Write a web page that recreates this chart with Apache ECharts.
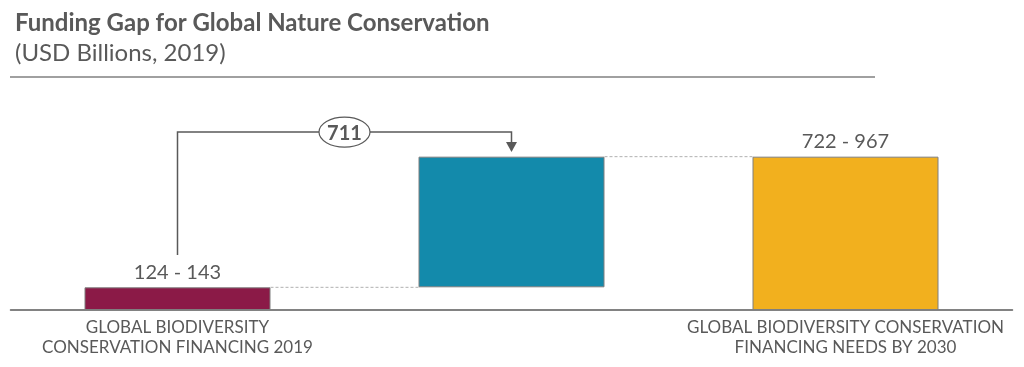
<!DOCTYPE html>
<html><head><meta charset="utf-8">
<script src="https://cdn.jsdelivr.net/npm/echarts@6/dist/echarts.min.js"></script>
<style>html,body{margin:0;padding:0;background:#fff}#c{width:1024px;height:367px}</style>
</head><body><div id="c"></div>
<script>
const categories = ['GLOBAL BIODIVERSITY\nCONSERVATION FINANCING 2019', '', 'GLOBAL BIODIVERSITY CONSERVATION\nFINANCING NEEDS BY 2030'];
const lowValues = [124, null, 722];
const highValues = [143, null, 967];
const gapLabel = 711;
// bracket: start value above bar 1, top value of the bracket, arrow tip value above bar 2
const bracketValues = [347, 1122, 997];

const barColors = ['#8B1A47', '#138AAB', '#F2B01E'];
const textColor = '#595959';
const barWidth = 186;

const baseData = [0, highValues[0], 0];
const sizeData = [highValues[0], highValues[2] - highValues[0], highValues[2]];

const chart = echarts.init(document.getElementById('c'));
chart.setOption({
  animation: false,
  title: [{
    text: 'Funding Gap for Global Nature Conservation',
    left: 10, top: 6,
    textStyle: {fontFamily: 'Lato', fontWeight: 'bold', fontSize: 24, color: textColor}
  }, {
    text: '(USD Billions, 2019)',
    left: 10, top: 36,
    textStyle: {fontFamily: 'Lato', fontWeight: 'normal', fontSize: 24, color: textColor}
  }],
  graphic: [{
    type: 'line', shape: {x1: 10, y1: 77, x2: 875, y2: 77},
    style: {stroke: '#808080', lineWidth: 1.5}
  }],
  grid: {left: 10.5, right: 11.5, top: 88, bottom: 57},
  xAxis: {
    type: 'category', data: categories,
    axisLine: {lineStyle: {color: '#595959', width: 1.5}},
    axisTick: {show: false},
    axisLabel: {fontFamily: 'Lato', fontSize: 17, color: textColor, lineHeight: 20, margin: 8, interval: 0}
  },
  yAxis: {type: 'value', min: 0, max: 1400, show: false, splitLine: {show: false}},
  series: [{
    type: 'bar', stack: 's', data: baseData, barWidth: barWidth,
    itemStyle: {color: 'transparent'}, silent: true
  }, {
    type: 'bar', stack: 's', barWidth: barWidth,
    data: sizeData.map((v, i) => ({
      value: v,
      itemStyle: {color: barColors[i], borderColor: '#7f7f7f', borderWidth: 1},
      label: {show: lowValues[i] != null}
    })),
    label: {
      position: 'top', distance: 5, fontFamily: 'Lato', fontSize: 20, color: textColor,
      formatter: p => lowValues[p.dataIndex] + ' - ' + highValues[p.dataIndex]
    }
  }, {
    type: 'custom', silent: true, z: 1,
    data: [[0, highValues[0], 1], [1, highValues[2], 2]],
    renderItem: (params, api) => {
      const a = api.coord([api.value(0), api.value(1)]);
      const b = api.coord([api.value(2), api.value(1)]);
      return {type: 'line', shape: {x1: a[0] + barWidth / 2, y1: a[1], x2: b[0] - barWidth / 2, y2: b[1]},
        style: {stroke: '#b0b0b0', lineWidth: 1, lineDash: [3, 2]}};
    }
  }, {
    type: 'custom', silent: true, z: 5,
    data: [[0, bracketValues[0], bracketValues[1], 1, bracketValues[2]]],
    renderItem: (params, api) => {
      const p0 = api.coord([api.value(0), api.value(1)]);
      const p1 = api.coord([api.value(0), api.value(2)]);
      const p2 = api.coord([api.value(3), api.value(2)]);
      const p3 = api.coord([api.value(3), api.value(4)]);
      const mx = (p1[0] + p2[0]) / 2;
      const col = '#595959';
      return {type: 'group', children: [
        {type: 'polyline', shape: {points: [p0, p1, p2, [p3[0], p3[1] - 9]]}, style: {stroke: col, lineWidth: 1.5, fill: null}},
        {type: 'polygon', shape: {points: [[p3[0] - 5.5, p3[1] - 10], [p3[0] + 5.5, p3[1] - 10], [p3[0], p3[1]]]}, style: {fill: col}},
        {type: 'ellipse', shape: {cx: mx, cy: p1[1], rx: 25.5, ry: 15}, style: {fill: '#fff', stroke: col, lineWidth: 1.2}},
        {type: 'text', x: mx, y: p1[1] + 1, style: {text: String(gapLabel), fontFamily: 'Lato', fontWeight: 'bold', fontSize: 20, fill: col, align: 'center', verticalAlign: 'middle'}}
      ]};
    }
  }]
});
</script></body></html>
